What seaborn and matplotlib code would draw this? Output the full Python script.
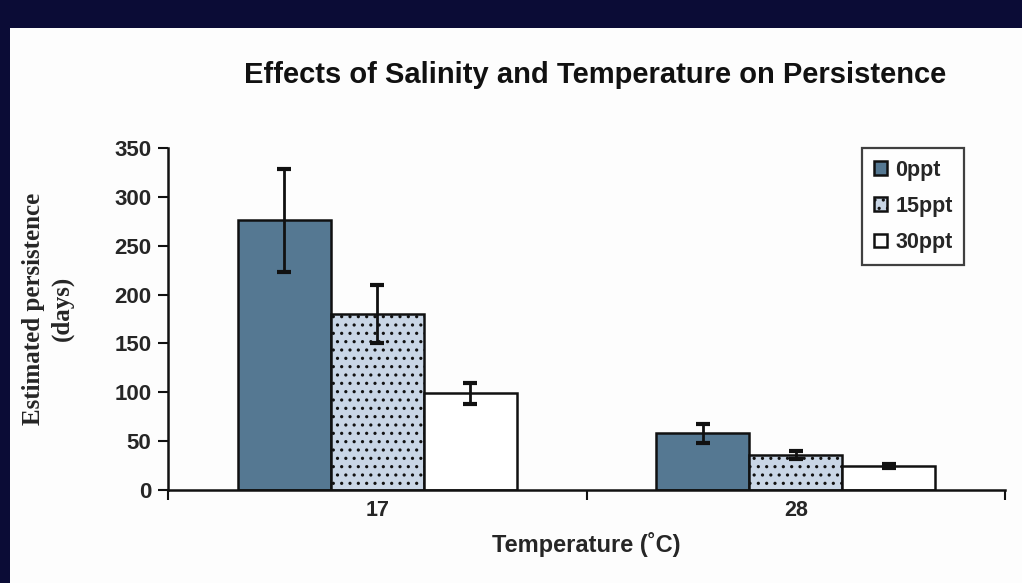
import matplotlib
matplotlib.use("Agg")
import matplotlib.pyplot as plt
from matplotlib.patches import Rectangle
import numpy as np
import pandas as pd
import seaborn as sns

# Persistence estimates (days) by temperature and salinity
temperatures = ["17", "28"]
salinities = ["0ppt", "15ppt", "30ppt"]
persistence_17 = [276, 180, 99]
persistence_28 = [58, 36, 25]
error_17 = [53, 30, 11]
error_28 = [10, 4, 2]
y_ticks = [0, 50, 100, 150, 200, 250, 300, 350]

records = []
for temp, vals in zip(temperatures, [persistence_17, persistence_28]):
    for sal, v in zip(salinities, vals):
        records.append({"Temperature": temp, "Salinity": sal, "Persistence": v})
df = pd.DataFrame(records)
errors = {s: [error_17[i], error_28[i]] for i, s in enumerate(salinities)}

sns.set_theme(style="white")
plt.rcParams["font.family"] = ["Liberation Sans", "DejaVu Sans"]
plt.rcParams["hatch.color"] = "#24364a"
plt.rcParams["hatch.linewidth"] = 1.1

fig = plt.figure(figsize=(10.22, 5.83), dpi=100)
fig.patch.set_facecolor("#0b0c36")
# white slide panel
fig.patches.append(Rectangle((10 / 1022, 0), 1 - 10 / 1022, (583 - 28) / 583,
                             transform=fig.transFigure, facecolor="#fdfdfd",
                             edgecolor="none", zorder=-5))

ax = fig.add_axes([168 / 1022, (583 - 490) / 583, (1005 - 168) / 1022, (490 - 148) / 583])
ax.set_facecolor("none")
ax.set_zorder(2)

palette = {"0ppt": "#557892", "15ppt": "#c9d6e6", "30ppt": "#ffffff"}
sns.barplot(data=df, x="Temperature", y="Persistence", hue="Salinity",
            order=temperatures, hue_order=salinities, palette=palette,
            width=0.667, errorbar=None, edgecolor="#111111", linewidth=1.8,
            saturation=1, legend=False, ax=ax)

for container, sal in zip(ax.containers, salinities):
    if sal == "15ppt":
        for p in container.patches:
            p.set_hatch("..")
    xs = [p.get_x() + p.get_width() / 2 for p in container.patches]
    hs = [p.get_height() for p in container.patches]
    ax.errorbar(xs, hs, yerr=errors[sal], fmt="none", ecolor="#111111",
                elinewidth=2.0, capsize=5, capthick=3, zorder=5)

ax.set_xlim(-0.5, 1.5)
ax.set_ylim(0, 350)
ax.set_yticks(y_ticks)
ax.set_yticklabels([str(t) for t in y_ticks], fontsize=16, fontweight="bold")

# category boundary ticks, labels centred on each group
ax.set_xticks([-0.5, 0.5, 1.5])
ax.set_xticklabels(["", "", ""])
ax.set_xticks([0, 1], minor=True)
ax.set_xticklabels(temperatures, minor=True, fontsize=15.5, fontweight="bold")
ax.tick_params(axis="x", which="major", direction="out", length=7, width=1.5, color="#111111")
ax.tick_params(axis="x", which="minor", length=0, pad=7)
ax.tick_params(axis="y", direction="out", length=7, width=1.5, color="#111111", pad=5)
ax.tick_params(left=True, bottom=True)

for side in ["top", "right"]:
    ax.spines[side].set_visible(False)
for side in ["left", "bottom"]:
    ax.spines[side].set_color("#111111")
    ax.spines[side].set_linewidth(1.8)

ax.set_xlabel("Temperature (˚C)", fontsize=17, fontweight="bold", labelpad=8)
ax.set_ylabel("Estimated persistence\n(days)", fontsize=18, fontweight="bold",
              family=["Liberation Serif", "DejaVu Serif"], linespacing=1.25)
ax.yaxis.set_label_coords(-0.113, 0.53)

fig.text(595 / 1022, 1 - 75 / 583, "Effects of Salinity and Temperature on Persistence",
         ha="center", va="center", fontsize=21, fontweight="bold", color="#111111")

leg = ax.legend(ax.containers, salinities, loc="upper left",
                bbox_to_anchor=(0.829, 1.0), frameon=True, fancybox=False,
                prop={"weight": "bold", "size": 15.5}, handlelength=0.6,
                handleheight=0.6, handletextpad=0.4, labelspacing=0.7,
                borderpad=0.55, borderaxespad=0)
leg.get_frame().set_edgecolor("#111111")
leg.get_frame().set_linewidth(1.6)

fig.savefig("out.png", dpi=100, facecolor=fig.get_facecolor())
